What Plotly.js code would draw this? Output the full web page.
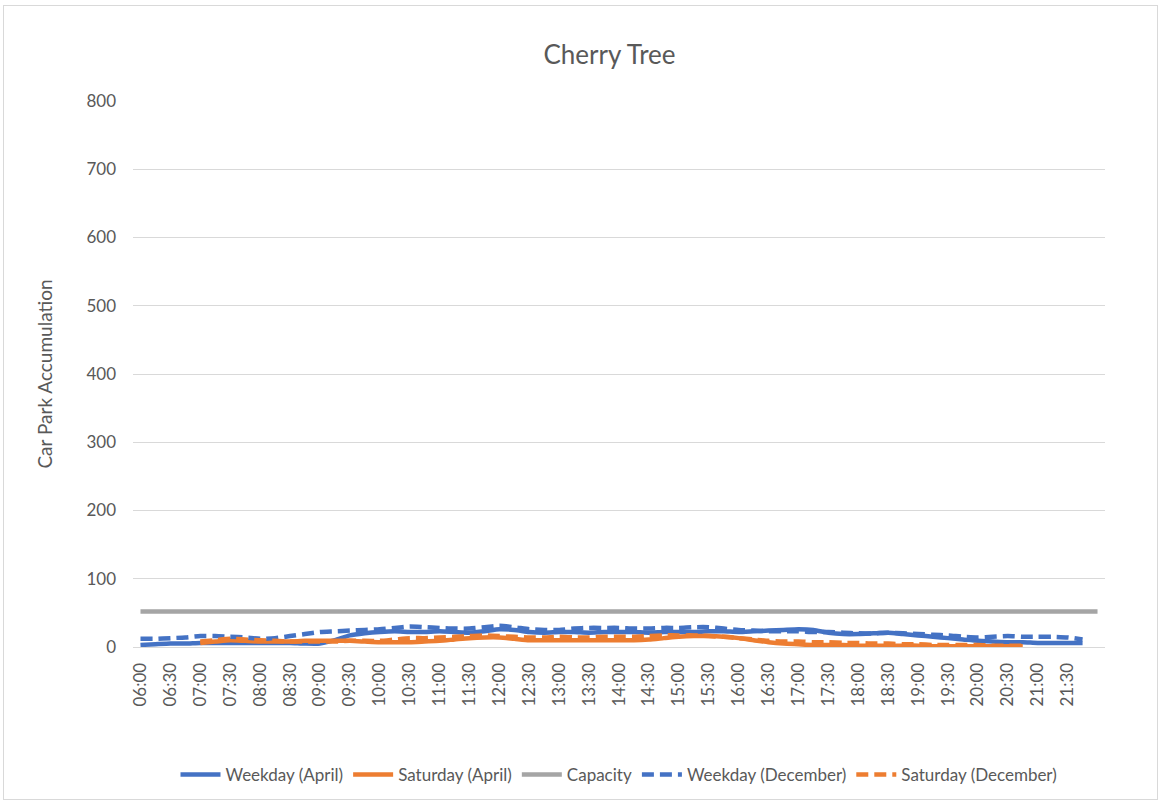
<!DOCTYPE html>
<html>
<head>
<meta charset="utf-8">
<script src="https://cdn.plot.ly/plotly-3.0.1.min.js"></script>
<style>
  html, body { margin: 0; padding: 0; background: #fff; }
  #wrap { position: relative; width: 1161px; height: 804px; }
  #chart { position: absolute; left: 0; top: 0; width: 1161px; height: 804px; }
  #frame { position: absolute; left: 3px; top: 5px; width: 1153px; height: 793px; border: 1px solid #d9d9d9; pointer-events: none; }
</style>
</head>
<body>
<div id="wrap"><div id="chart"></div><div id="frame"></div></div>
<script>
// Categories: 15-minute intervals 06:00 .. 22:00
const times = ["06:00","06:15","06:30","06:45","07:00","07:15","07:30","07:45",
  "08:00","08:15","08:30","08:45","09:00","09:15","09:30","09:45",
  "10:00","10:15","10:30","10:45","11:00","11:15","11:30","11:45",
  "12:00","12:15","12:30","12:45","13:00","13:15","13:30","13:45",
  "14:00","14:15","14:30","14:45","15:00","15:15","15:30","15:45",
  "16:00","16:15","16:30","16:45","17:00","17:15","17:30","17:45",
  "18:00","18:15","18:30","18:45","19:00","19:15","19:30","19:45",
  "20:00","20:15","20:30","20:45","21:00","21:15","21:30","21:45","22:00"];

// Tick labels shown (every 30 minutes)
const tickLabels = ["06:00","06:30","07:00","07:30","08:00","08:30","09:00","09:30",
  "10:00","10:30","11:00","11:30","12:00","12:30","13:00","13:30",
  "14:00","14:30","15:00","15:30","16:00","16:30","17:00","17:30",
  "18:00","18:30","19:00","19:30","20:00","20:30","21:00","21:30"];

const weekdayApril = [3,4,5,5,6,6,6,6, 6,6,6,5,5,10,17,20,
  22,23,22,22,23,22,21,23, 26,25,22,21,22,22,21,22,
  22,22,21,22,22,22,23,23, 22,23,24,25,26,25,21,19,
  19,20,21,19,17,15,13,11, 9,8,7,7,6,6,6,6,null];

const saturdayApril = [null,null,null,null,6,8,10,9, 8,8,8,9,9,9,9,8,
  7,7,7,8,9,11,13,14, 14,12,10,10,10,10,10,10,
  10,10,11,13,15,16,16,15, 13,10,7,5,4,3,3,3,
  2,2,2,2,2,1,1,1, 1,1,1,1,null,null,null,null,null];

const capacity = [52,52,52,52,52,52,52,52, 52,52,52,52,52,52,52,52,
  52,52,52,52,52,52,52,52, 52,52,52,52,52,52,52,52,
  52,52,52,52,52,52,52,52, 52,52,52,52,52,52,52,52,
  52,52,52,52,52,52,52,52, 52,52,52,52,52,52,52,52,52];

const weekdayDecember = [12,12,13,14,16,16,15,14, 12,13,16,19,22,23,24,25,
  26,28,30,29,28,27,27,29, 31,29,26,25,25,27,28,28,
  28,27,27,28,28,29,29,27, 25,24,23,23,23,22,22,21,
  20,20,21,20,19,18,17,15, 14,15,16,15,15,15,14,11,null];

const saturdayDecember = [null,null,null,null,8,10,12,11, 10,9,8,8,8,8,9,9,
  9,11,13,13,14,15,16,17, 16,15,14,14,15,14,14,15,
  15,15,16,17,17,17,16,15, 13,11,9,8,8,7,7,6,
  6,5,5,4,4,3,3,3, 3,2,2,2,null,null,null,null,null];

const seriesNames = ["Weekday (April)","Saturday (April)","Capacity","Weekday (December)","Saturday (December)"];

const BLUE = "#4472C4", ORANGE = "#ED7D31", GRAY = "#A5A5A5", TXT = "#595959", GRID = "#d9d9d9";
const FONT = "Lato, 'Open Sans', sans-serif";

function tr(name, y, color, dash) {
  return {
    x: times, y: y, name: name, type: "scatter", mode: "lines",
    connectgaps: false,
    line: { color: color, width: 4.5, dash: dash, shape: "spline", smoothing: 0.6 },
    hoverinfo: "x+y+name"
  };
}

const data = [
  tr(seriesNames[0], weekdayApril, BLUE, "solid"),
  tr(seriesNames[1], saturdayApril, ORANGE, "solid"),
  tr(seriesNames[2], capacity, GRAY, "solid"),
  tr(seriesNames[3], weekdayDecember, BLUE, "12px,6px"),
  tr(seriesNames[4], saturdayDecember, ORANGE, "12px,6px")
];

const layout = {
  width: 1161, height: 804,
  paper_bgcolor: "rgba(0,0,0,0)", plot_bgcolor: "#fff",
  margin: { l: 133, r: 56, t: 101, b: 156 },
  font: { family: FONT, color: TXT, size: 17 },
  title: { text: "Cherry Tree", font: { family: FONT, size: 26, color: TXT },
           x: 0.525, xanchor: "center", y: 1 - 55/804, yanchor: "middle", yref: "container" },
  xaxis: {
    type: "category", categoryorder: "array", categoryarray: times,
    range: [-0.5, times.length - 0.5],
    tickmode: "array", tickvals: tickLabels, ticktext: tickLabels,
    tickangle: -90, tickfont: { family: FONT, size: 17, color: TXT },
    showgrid: false, showline: true, linecolor: GRID, linewidth: 1,
    ticks: "", ticklabelstandoff: 8, zeroline: false, fixedrange: true
  },
  yaxis: {
    range: [0, 800], dtick: 100, tick0: 0,
    showgrid: true, gridcolor: GRID, gridwidth: 1,
    showline: false, zeroline: false, ticks: "", ticklabelstandoff: 16,
    tickfont: { family: FONT, size: 17, color: TXT },
    title: { text: "Car Park Accumulation", font: { family: FONT, size: 19, color: TXT }, standoff: 28 },
    fixedrange: true
  },
  legend: {
    orientation: "h", x: 0.5, xanchor: "center", y: (648 - 775) / 547, yanchor: "middle",
    font: { family: FONT, size: 17, color: TXT }, traceorder: "normal",
    itemwidth: 40
  },
  showlegend: true
};

Plotly.newPlot("chart", data, layout, { displayModeBar: false, staticPlot: true });
</script>
</body>
</html>
